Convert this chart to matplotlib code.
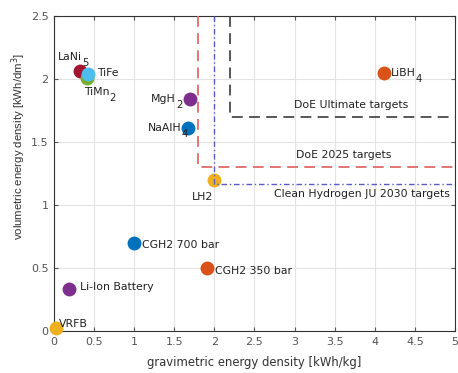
import matplotlib
matplotlib.use("Agg")
import matplotlib.pyplot as plt

plt.rcParams['font.family'] = ['DejaVu Sans']

# Storage technologies: gravimetric (kWh/kg) and volumetric (kWh/dm^3) energy density
names = ["LaNi", "TiFe", "TiMn", "MgH", "NaAlH", "LH2", "LiBH",
         "CGH2 700 bar", "CGH2 350 bar", "Li-Ion Battery", "VRFB"]
subs = ["5", "", "2", "2", "4", "", "4", "", "", "", ""]
grav = [0.33, 0.42, 0.41, 1.69, 1.67, 1.99, 4.11, 1.00, 1.91, 0.19, 0.02]
vol = [2.06, 2.04, 2.01, 1.84, 1.61, 1.20, 2.05, 0.70, 0.50, 0.33, 0.02]
colors = ["#A2142F", "#4DBEEE", "#77AC30", "#7E2F8E", "#0072BD", "#EDB120", "#D95319",
          "#0072BD", "#D95319", "#7E2F8E", "#EDB120"]

# Target corners (gravimetric, volumetric)
targets = ["DoE Ultimate targets", "DoE 2025 targets", "Clean Hydrogen JU 2030 targets"]
target_grav = [2.2, 1.8, 2.0]
target_vol = [1.7, 1.3, 1.17]

fig = plt.figure(figsize=(4.58, 3.73), dpi=100)
ax = fig.add_axes([54/458, 1 - 331/373, (455-54)/458, (331-16)/373])
ax.set_xlim(0, 5)
ax.set_ylim(0, 2.5)

order = [0, 2, 1, 3, 4, 5, 6, 7, 8, 9, 10]
for i in order:
    ax.plot(grav[i], vol[i], 'o', ms=10, color=colors[i], mec='none', zorder=3, clip_on=False)

styles = [dict(color="#4A4A4A", ls=(0, (6, 3.5)), lw=1.3),
          dict(color="#E06A6A", ls=(0, (6, 3.5)), lw=1.3),
          dict(color="#5B5BC8", ls=(0, (4, 2, 1, 2)), lw=1.0)]
for gx, vy, st in zip(target_grav, target_vol, styles):
    ax.plot([gx, gx, 5], [2.5, vy, vy], zorder=4, **st)

fs = 7.8
tcol = "#222222"
renderer = fig.canvas.get_renderer()
to_data = ax.transData.inverted()


def chem_label(x, y, base, sub, ha):
    """Text with a MATLAB-style large, dropped subscript."""
    t = ax.text(x, y, base, ha='left', va='center', fontsize=fs, color=tcol, zorder=5)
    wb = t.get_window_extent(renderer).width
    s = None
    ws = 0.0
    if sub:
        s = ax.text(x, y, sub, ha='left', va='center', fontsize=fs * 0.92, color=tcol, zorder=5)
        ws = s.get_window_extent(renderer).width
    px, py = ax.transData.transform((x, y))
    total = wb + ws
    left = {'left': px, 'right': px - total, 'center': px - total / 2}[ha]
    t.set_position(to_data.transform((left, py)))
    if s is not None:
        s.set_position(to_data.transform((left + wb, py - 6)))


# label anchors as offsets from each point: (dx, dy, ha)
offs = [(-0.28, 0.115, 'left'),
        (0.12, 0.01, 'left'),
        (-0.035, -0.11, 'left'),
        (-0.09, 0.0, 'right'),
        (0.0, 0.0, 'right'),
        (-0.14, -0.14, 'center'),
        (0.09, 0.0, 'left'),
        (0.1, -0.02, 'left'),
        (0.1, -0.02, 'left'),
        (0.135, 0.02, 'left'),
        (0.04, 0.035, 'left')]
for n, sb, x, y, (dx, dy, ha) in zip(names, subs, grav, vol, offs):
    chem_label(x + dx, y + dy, n, sb, ha)

ax.text(3.71, 1.79, targets[0], ha='center', va='center', fontsize=fs, color=tcol, zorder=5)
ax.text(3.61, 1.40, targets[1], ha='center', va='center', fontsize=fs, color=tcol, zorder=5)
ax.text(4.93, 1.09, targets[2], ha='right', va='center', fontsize=fs, color=tcol, zorder=5)

ax.set_xticks([0, 0.5, 1, 1.5, 2, 2.5, 3, 3.5, 4, 4.5, 5])
ax.set_xticklabels(["0", "0.5", "1", "1.5", "2", "2.5", "3", "3.5", "4", "4.5", "5"])
ax.set_yticks([0, 0.5, 1, 1.5, 2, 2.5])
ax.set_yticklabels(["0", "0.5", "1", "1.5", "2", "2.5"])
ax.grid(True, color="#E3E3E3", lw=0.8)
ax.set_axisbelow(True)
ax.tick_params(direction='in', top=True, right=True, labelsize=8, colors="#555555",
               length=3, width=0.8, pad=4)
for sp in ax.spines.values():
    sp.set_color("#333333")
    sp.set_linewidth(0.8)
ax.set_xlabel("gravimetric energy density [kWh/kg]", fontsize=8.4, color="#333333", labelpad=7)
ax.set_ylabel("volumetric energy density [kWh/dm$^3$]", fontsize=8.2, color="#333333",
              family=['Liberation Sans', 'DejaVu Sans'])
ax.yaxis.set_label_coords(-0.064, 0.585)

fig.savefig("out.png", dpi=100)
